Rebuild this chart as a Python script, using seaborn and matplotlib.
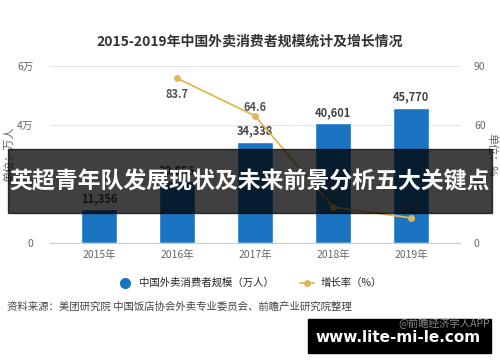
import numpy as np
import pandas as pd
import matplotlib
matplotlib.use('Agg')
import matplotlib.pyplot as plt
import seaborn as sns
from matplotlib.lines import Line2D

# 数据
years = ['2015年', '2016年', '2017年', '2018年', '2019年']
users = [11356, 20856, 34338, 40601, 45770]          # 万人
rate_years = ['2016年', '2017年', '2018年', '2019年']
rates = [83.7, 64.6, 18.2, 12.7]                      # %
left_ticks = [0, 20000, 40000, 60000]
left_labels = ['0', '2万', '4万', '6万']
right_ticks = [0, 30, 60, 90]

sns.set_style('white')
plt.rcParams['font.family'] = ['Noto Sans CJK SC', 'DejaVu Sans']

bar_color = '#1b74c1'
line_color = '#dfb658'
gray = '#666666'

fig = plt.figure(figsize=(5, 3.62), dpi=100)
ax = fig.add_axes([0.10, 0.329, 0.82, 0.489])

df = pd.DataFrame({'year': years, 'users': users})
sns.barplot(data=df, x='year', y='users', color=bar_color, width=0.47,
            saturation=1, ax=ax)
ax.set_xlim(-0.63, 4.63)
ax.set_ylim(0, 60000)
ax.set_yticks(left_ticks)
ax.set_yticklabels(left_labels)
ax.set_xlabel('')
ax.set_ylabel('单位：万人', fontsize=8, color=gray, labelpad=2)
ax.grid(axis='y', color='#e3e3e3', linewidth=0.8)
ax.set_axisbelow(True)
for s in ['top', 'left', 'right']:
    ax.spines[s].set_visible(False)
ax.spines['bottom'].set_color('#cccccc')
ax.tick_params(axis='y', length=0, labelsize=7.5, labelcolor=gray, pad=12)
ax.tick_params(axis='x', length=3, color='#cccccc', labelsize=7.5, labelcolor=gray, pad=2)
ax.bar_label(ax.containers[0], labels=[f'{v:,}' for v in users], padding=3,
             fontsize=8, fontweight='bold', color='#444444')

ax2 = ax.twinx()
ldf = pd.DataFrame({'pos': [years.index(y) for y in rate_years], 'rate': rates})
sns.lineplot(data=ldf, x='pos', y='rate', color=line_color, linewidth=1.3,
             marker='o', markersize=5, markeredgewidth=0, ax=ax2)
ax2.set_ylim(0, 90)
ax2.set_yticks(right_ticks)
ax2.set_ylabel('单位：%', fontsize=8, color=gray, rotation=270, labelpad=8)
for s in ['top', 'left', 'right', 'bottom']:
    ax2.spines[s].set_visible(False)
ax2.tick_params(axis='y', length=0, labelsize=7.5, labelcolor=gray, pad=10)
for x, r in zip(ldf['pos'], ldf['rate']):
    off = -12 if r == max(rates) else 6
    ax2.annotate(f'{r}', (x, r), xytext=(0, off), textcoords='offset points',
                 ha='center', va='center', fontsize=8, fontweight='bold', color='#555555')

fig.text(0.5, 0.884, '2015-2019年中国外卖消费者规模统计及增长情况', ha='center', va='center',
         fontsize=10, fontweight='bold', color='#333333')

handles = [Line2D([], [], color=bar_color, marker='o', linestyle='none', markersize=7),
           Line2D([], [], color=line_color, marker='o', linewidth=1.3, markersize=4)]
fig.legend(handles, ['中国外卖消费者规模（万人）', '增长率（%）'], loc='center',
           bbox_to_anchor=(0.5, 0.218), ncol=2, frameon=False, fontsize=7.5,
           handlelength=1.4, columnspacing=2.5, handletextpad=0.6)

fig.text(0.014, 0.152, '资料来源：美团研究院 中国饭店协会外卖专业委员会、前瞻产业研究院整理',
         ha='left', va='center', fontsize=7.5, color='#444444')

# 横幅
fig.patches.append(plt.Rectangle((0.016, 0.412), 0.968, 0.177, transform=fig.transFigure,
                                 color='black', alpha=0.75, zorder=5))
fig.text(0.5, 0.497, '英超青年队发展现状及未来前景分析五大关键点', ha='center', va='center',
         fontsize=16.5, fontweight='bold', color='white', zorder=6)

# 右下角水印
fig.patches.append(plt.Rectangle((0.616, 0.025), 0.366, 0.094, transform=fig.transFigure,
                                 color='black', zorder=5))
fig.text(0.98, 0.108, '@前瞻经济学人APP', ha='right', va='center', fontsize=7.5,
         color='#888888', zorder=6)
fig.text(0.797, 0.068, 'www.lite-mi-le.com', ha='center', va='center', fontsize=11,
         fontweight='bold', color='white', family=['DejaVu Sans'], zorder=7)

fig.savefig('out.png', dpi=100, facecolor='white')
